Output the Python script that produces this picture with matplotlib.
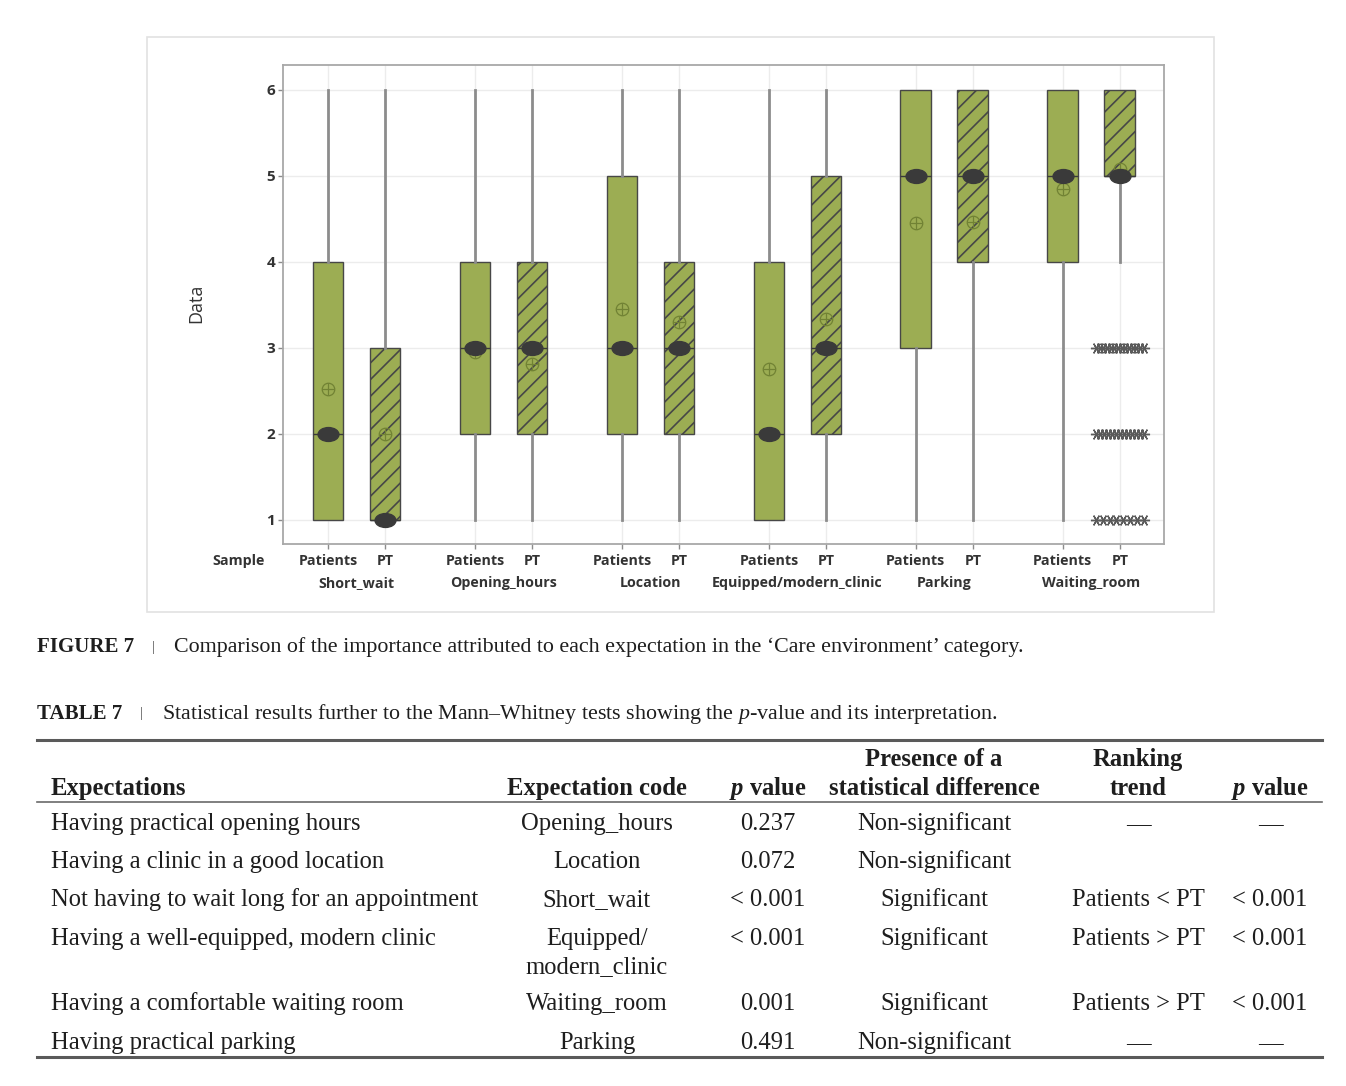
import numpy as np
import matplotlib
matplotlib.use("Agg")
import matplotlib.pyplot as plt
from matplotlib.path import Path
from matplotlib.transforms import Affine2D, blended_transform_factory
from matplotlib.patches import Rectangle
from matplotlib.lines import Line2D

W, H = 1346, 1086

# ---- box plot data (importance scores 1-6) ----
groups = ["Short_wait", "Opening_hours", "Location", "Equipped/modern_clinic",
          "Parking", "Waiting_room"]
samples = ["Patients", "PT"]
# one value per box: Patients, PT for each group in order
q1 = [1, 1, 2, 2, 2, 2, 1, 2, 3, 4, 4, 5]
median = [2, 1, 3, 3, 3, 3, 2, 3, 5, 5, 5, 5]
q3 = [4, 3, 4, 4, 5, 4, 4, 5, 6, 6, 6, 6]
whisker_lo = [1, 1, 1, 1, 1, 1, 1, 1, 1, 1, 1, 4]
whisker_hi = [6, 6, 6, 6, 6, 6, 6, 6, 6, 6, 6, 6]
means = [2.52, 2.0, 2.95, 2.81, 3.45, 3.30, 2.76, 3.34, 4.45, 4.47, 4.85, 5.08]
# outliers of Waiting_room / PT
outlier_values = [3, 2, 1]
outlier_counts = [14, 13, 8]

# ---- table data ----
expectations = ["Having practical opening hours",
                "Having a clinic in a good location",
                "Not having to wait long for an appointment",
                "Having a well-equipped, modern clinic",
                "Having a comfortable waiting room",
                "Having practical parking"]
codes = ["Opening_hours", "Location", "Short_wait", "Equipped/\nmodern_clinic",
         "Waiting_room", "Parking"]
p_values = ["0.237", "0.072", "< 0.001", "< 0.001", "0.001", "0.491"]
presence = ["Non-significant", "Non-significant", "Significant", "Significant",
            "Significant", "Non-significant"]
trend = ["—", "", "Patients < PT", "Patients > PT", "Patients > PT", "—"]
trend_p = ["—", "", "< 0.001", "< 0.001", "< 0.001", "—"]
header_top = ["", "", "", "Presence of a", "Ranking", ""]
header_bottom = ["Expectations", "Expectation code", r"$\mathit{p}$ value",
                 "statistical difference", "trend", r"$\mathit{p}$ value"]

plt.rcParams["mathtext.fontset"] = "custom"
plt.rcParams["mathtext.rm"] = "Liberation Serif"
plt.rcParams["mathtext.it"] = "Liberation Serif:italic:bold"
plt.rcParams["mathtext.sf"] = "Liberation Serif:italic"
plt.rcParams["hatch.linewidth"] = 1.2


def fx(x):
    return x / W


def fy(y):
    return 1 - y / H


fig = plt.figure(figsize=(W / 100, H / 100), dpi=100)

# light frame around the chart
fig.add_artist(Rectangle((fx(147), fy(612)), fx(1214) - fx(147), fy(37) - fy(612),
                         transform=fig.transFigure, fill=False,
                         edgecolor="#e2e2e2", lw=1.2))

ax = fig.add_axes([fx(283), fy(544), fx(1164) - fx(283), fy(65) - fy(544)])

gap = 147 / 57
pos = [g * gap + s for g in range(len(groups)) for s in range(len(samples))]

stats = [dict(med=median[i], q1=q1[i], q3=q3[i], whislo=whisker_lo[i],
              whishi=whisker_hi[i], fliers=[]) for i in range(len(pos))]

green = "#9cad53"
bp = ax.bxp(stats, positions=pos, widths=0.54, patch_artist=True,
            showcaps=False, showfliers=False, manage_ticks=False,
            boxprops=dict(facecolor=green, edgecolor="#474747", lw=1),
            whiskerprops=dict(color="#8c8c8c", lw=2),
            medianprops=dict(color="#3a3a3a", lw=1), zorder=3)
for i, box in enumerate(bp["boxes"]):
    if i % 2 == 1:
        box.set_hatch("//")

ellipse = Path.unit_circle().transformed(Affine2D().scale(1.5, 1.0))
ax.plot(pos, median, linestyle="none", marker=ellipse, ms=15,
        color="#3a3a3a", zorder=6)
ax.plot(pos, means, linestyle="none", marker="o", ms=9, mfc="none",
        mec="#718234", mew=0.9, zorder=5)
ax.plot(pos, means, linestyle="none", marker="+", ms=9, color="#718234",
        mew=0.9, zorder=5)

for v, n in zip(outlier_values, outlier_counts):
    xs = pos[-1] + np.linspace(-0.42, 0.42, n)
    ax.plot(xs, [v] * n, linestyle="none", marker=(6, 2, 90), ms=8,
            mew=1.0, color="#5a5a5a", zorder=5)

ax.set_xlim(-0.79, 14.67)
ax.set_ylim(0.72, 6.29)
ax.set_axisbelow(True)
ax.grid(True, color="#ececec", lw=1)

tick_font = dict(family="Open Sans", weight="bold", color="#333333")
ax.set_xticks(pos, samples * len(groups), fontsize=10.3, **tick_font)
ax.set_yticks([1, 2, 3, 4, 5, 6], ["1", "2", "3", "4", "5", "6"],
              fontsize=11, **tick_font)
ax.tick_params(axis="both", color="#8c8c8c", length=3.5, width=1)
ax.tick_params(axis="x", pad=4)
ax.tick_params(axis="y", pad=2)
for sp in ax.spines.values():
    sp.set_color("#a8a8a8")
    sp.set_linewidth(1.3)

trans = blended_transform_factory(ax.transData, ax.transAxes)
for g, name in enumerate(groups):
    ax.text(pos[2 * g] + 0.5, -0.0814, name, transform=trans, ha="center",
            va="center", fontsize=10.3, **tick_font)
ax.text(-0.051, -0.0355, "Sample", transform=ax.transAxes, ha="center",
        va="center", fontsize=10.3, **tick_font)
ax.text(-0.0988, 0.503, "Data", transform=ax.transAxes, rotation=90,
        ha="center", va="center", fontsize=13, family="Open Sans",
        color="#333333")

# ---- captions ----
serif = dict(family="Liberation Serif", color="#1e1e1e")
fig.text(fx(37), fy(647), "FIGURE 7", fontsize=15, weight="bold", va="center", **serif)
fig.text(fx(153), fy(647), "|", fontsize=11, va="center", ha="center",
         family="Liberation Serif", color="#555555")
fig.text(fx(174), fy(647),
         "Comparison of the importance attributed to each expectation in the "
         "\u2018Care environment\u2019 category.", fontsize=15.8, va="center", **serif)
fig.text(fx(37), fy(714), "TABLE 7", fontsize=15, weight="bold", va="center", **serif)
fig.text(fx(141), fy(714), "|", fontsize=11, va="center", ha="center",
         family="Liberation Serif", color="#555555")
fig.text(fx(162), fy(714),
         r"Statistical results further to the Mann–Whitney tests showing the "
         r"$\mathsf{p}$-value and its interpretation.", fontsize=15.8, va="center",
         **serif)

# ---- table ----
col_x = [51, 597, 768, 934, 1138, 1270]
col_ha = ["left", "center", "center", "center", "center", "center"]
row_base = [830, 868, 906, 945, 1010, 1049]
line_step = 28
fs = 17.7

for c in range(6):
    if header_top[c]:
        fig.text(fx(col_x[c]), fy(766), header_top[c], ha=col_ha[c],
                 va="baseline", fontsize=fs, weight="bold", **serif)
    fig.text(fx(col_x[c]), fy(795), header_bottom[c], ha=col_ha[c],
             va="baseline", fontsize=fs, weight="bold", **serif)

columns = [expectations, codes, p_values, presence, trend, trend_p]
for c, col in enumerate(columns):
    for r, val in enumerate(col):
        for k, line in enumerate(val.split("\n")):
            fig.text(fx(col_x[c]), fy(row_base[r] + k * line_step), line,
                     ha=col_ha[c], va="baseline", fontsize=fs, **serif)

for y, lw, col in [(740, 2.2, "#5a5a5a"), (802, 1.2, "#6a6a6a"), (1057, 2.2, "#5a5a5a")]:
    fig.add_artist(Line2D([fx(37), fx(1322)], [fy(y), fy(y)],
                          transform=fig.transFigure, color=col, lw=lw))

fig.savefig("out.png", dpi=100)
